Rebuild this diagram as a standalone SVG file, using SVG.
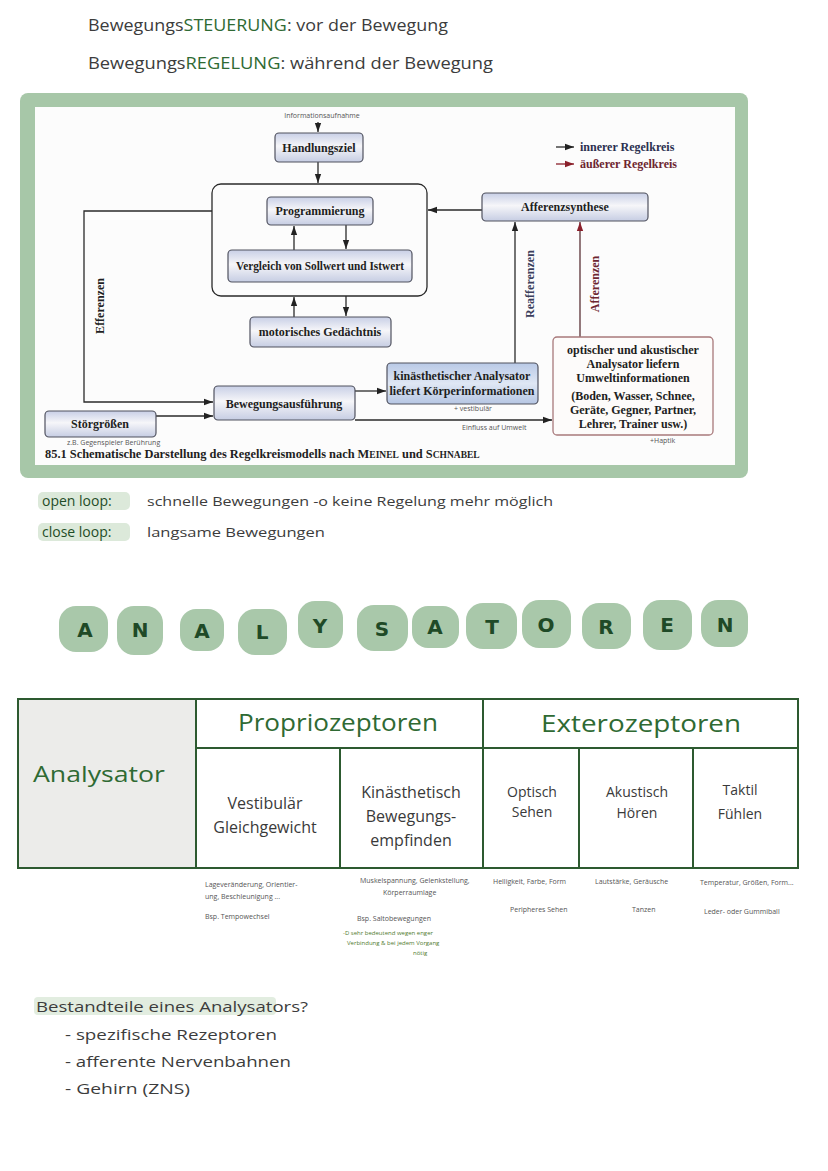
<svg xmlns="http://www.w3.org/2000/svg" width="828" height="1171" viewBox="0 0 828 1171">
<style>
.hw{font-family:"Open Sans","DejaVu Sans",sans-serif;fill:#3c3c3c}
.gr{fill:#2f6a33}
.dg{fill:#1e4a26}
.bt{font-family:"Liberation Serif",serif;font-weight:bold;font-size:12px;fill:#1e1e22;text-anchor:middle}
.bx{fill:url(#bg);stroke:#50525f;stroke-width:1.2}
.ln{fill:none;stroke:#2a2a2a;stroke-width:1.3}
.rl{fill:none;stroke:#5a3236;stroke-width:1.3}
.sm{font-family:"Open Sans","DejaVu Sans",sans-serif;font-size:7px;fill:#555}
.tl{stroke:#2d5a30;stroke-width:2;fill:none}
.blob{fill:#a9c8aa}
.bl{font-family:"DejaVu Sans",sans-serif;font-weight:bold;font-size:20px;fill:#1f4a27;text-anchor:middle}
.th{font-family:"Open Sans","DejaVu Sans",sans-serif;fill:#3a3a3a;text-anchor:middle}
.nt{font-family:"Open Sans","DejaVu Sans",sans-serif;font-size:7px;fill:#555}
</style>
<defs>
<linearGradient id="bg" x1="0" y1="0" x2="0" y2="1">
<stop offset="0" stop-color="#c8cfe6"/><stop offset="0.45" stop-color="#f6f6f9"/><stop offset="1" stop-color="#c6cde3"/>
</linearGradient>
<linearGradient id="bg2" x1="0" y1="0" x2="0" y2="1">
<stop offset="0" stop-color="#b9c9e6"/><stop offset="0.5" stop-color="#dfe7f4"/><stop offset="1" stop-color="#b6c6e3"/>
</linearGradient>
<marker id="ah" viewBox="0 0 10 10" refX="10" refY="5" markerWidth="7" markerHeight="7" orient="auto-start-reverse"><path d="M0,1.5 L10,5 L0,8.5 Z" fill="#222"/></marker>
<marker id="ahr" viewBox="0 0 10 10" refX="10" refY="5" markerWidth="7" markerHeight="7" orient="auto-start-reverse"><path d="M0,1.5 L10,5 L0,8.5 Z" fill="#8a1f2a"/></marker>
</defs>
<rect width="828" height="1171" fill="#ffffff"/>

<g id="header">
<text class="hw" x="88" y="31" font-size="17" textLength="360" lengthAdjust="spacingAndGlyphs">Bewegungs<tspan class="gr">STEUERUNG</tspan>: vor der Bewegung</text>
<text class="hw" x="88" y="69" font-size="17" textLength="405" lengthAdjust="spacingAndGlyphs">Bewegungs<tspan class="gr">REGELUNG</tspan>: während der Bewegung</text>
</g>

<g id="frame">
<rect x="20" y="93" width="728" height="385" rx="8" fill="#a7c7a8"/>
<rect x="35" y="107" width="700" height="358" fill="#fcfcfc"/>
</g>

<g id="connectors">
<line class="ln" x1="318" y1="122" x2="318" y2="132" marker-end="url(#ah)"/>
<line class="ln" x1="318" y1="162" x2="318" y2="183" marker-end="url(#ah)"/>
<line class="ln" x1="294" y1="250" x2="294" y2="226" marker-end="url(#ah)"/>
<line class="ln" x1="346" y1="225" x2="346" y2="249" marker-end="url(#ah)"/>
<line class="ln" x1="294" y1="317" x2="294" y2="297" marker-end="url(#ah)"/>
<line class="ln" x1="346" y1="296" x2="346" y2="316" marker-end="url(#ah)"/>
<polyline class="ln" points="212,211 84,211 84,402 213,402" marker-end="url(#ah)"/>
<line class="ln" x1="156" y1="416" x2="213" y2="416" marker-end="url(#ah)"/>
<line class="ln" x1="482" y1="210" x2="428" y2="210" marker-end="url(#ah)"/>
<line class="ln" x1="355" y1="391" x2="386" y2="391" marker-end="url(#ah)"/>
<line class="ln" x1="355" y1="420" x2="552" y2="420" marker-end="url(#ah)"/>
<line class="ln" x1="515" y1="363" x2="515" y2="222" marker-end="url(#ah)"/>
<line class="rl" x1="580" y1="337" x2="580" y2="222" marker-end="url(#ahr)"/>
<line class="ln" x1="556" y1="147" x2="574" y2="147" marker-end="url(#ah)"/>
<line x1="556" y1="164" x2="574" y2="164" stroke="#8a1f2a" stroke-width="1.3" marker-end="url(#ahr)"/>
</g>

<g id="legend">
<text x="580" y="151" font-family="Liberation Serif,serif" font-weight="bold" font-size="12" fill="#2b3050">innerer Regelkreis</text>
<text x="580" y="168" font-family="Liberation Serif,serif" font-weight="bold" font-size="12" fill="#6d2630">äußerer Regelkreis</text>
</g>

<g id="info">
<text class="sm" x="322" y="118" text-anchor="middle">Informationsaufnahme</text>
</g>

<g id="handlungsziel">
<rect class="bx" x="275" y="133" width="88" height="29" rx="4"/>
<text class="bt" x="319" y="152">Handlungsziel</text>
</g>

<g id="zentrum">
<rect class="ln" x="212" y="184" width="215" height="112" rx="9"/>
</g>

<g id="programmierung">
<rect class="bx" x="267" y="197" width="106" height="28" rx="4"/>
<text class="bt" x="320" y="215">Programmierung</text>
</g>

<g id="vergleich">
<rect class="bx" x="228" y="250" width="184" height="32" rx="4"/>
<text class="bt" x="320" y="270" textLength="168" lengthAdjust="spacingAndGlyphs">Vergleich von Sollwert und Istwert</text>
</g>

<g id="gedaechtnis">
<rect class="bx" x="250" y="317" width="141" height="30" rx="4"/>
<text class="bt" x="320" y="336">motorisches Gedächtnis</text>
</g>

<g id="afferenzsynthese">
<rect class="bx" x="482" y="193" width="166" height="28" rx="4"/>
<text class="bt" x="565" y="211">Afferenzsynthese</text>
</g>

<g id="bewegungsausfuehrung">
<rect class="bx" x="214" y="386" width="141" height="34" rx="4"/>
<text class="bt" x="284" y="408">Bewegungsausführung</text>
</g>

<g id="stoergroessen">
<rect class="bx" x="45" y="411" width="111" height="26" rx="4"/>
<text class="bt" x="100" y="428">Störgrößen</text>
<text class="sm" x="67" y="445">z.B. Gegenspieler Berührung</text>
</g>

<g id="kinaesthetisch">
<rect x="387" y="363" width="151" height="41" rx="4" fill="url(#bg2)" stroke="#50525f" stroke-width="1.2"/>
<text class="bt" x="462" y="380">kinästhetischer Analysator</text>
<text class="bt" x="462" y="395">liefert Körperinformationen</text>
<text class="sm" x="454" y="411">+ vestibulär</text>
</g>

<g id="optisch">
<rect x="553" y="337" width="160" height="98" rx="4" fill="#fdfbfa" stroke="#a8797b" stroke-width="1.3"/>
<text class="bt" x="633" y="354">optischer und akustischer</text>
<text class="bt" x="633" y="368">Analysator liefern</text>
<text class="bt" x="633" y="382">Umweltinformationen</text>
<text class="bt" x="633" y="400">(Boden, Wasser, Schnee,</text>
<text class="bt" x="633" y="414">Geräte, Gegner, Partner,</text>
<text class="bt" x="633" y="428">Lehrer, Trainer usw.)</text>
<text class="sm" x="650" y="443">+Haptik</text>
</g>

<g id="labels">
<text class="bt" transform="translate(104,306) rotate(-90)">Efferenzen</text>
<text class="bt" transform="translate(534,284) rotate(-90)" style="fill:#3b3f5c">Reafferenzen</text>
<text class="bt" transform="translate(599,284) rotate(-90)" style="fill:#6d2630">Afferenzen</text>
<text class="sm" x="462" y="430">Einfluss auf Umwelt</text>
</g>

<g id="caption">
<text x="45" y="458" font-family="Liberation Serif,serif" font-weight="bold" font-size="12.4" fill="#1e1e22">85.1  Schematische Darstellung des Regelkreismodells nach M<tspan font-size="9.5">EINEL</tspan> und S<tspan font-size="9.5">CHNABEL</tspan></text>
</g>

<g id="loops">
<rect x="38" y="492" width="92" height="18" rx="5" fill="#dce9da"/>
<rect x="38" y="523" width="92" height="18" rx="5" fill="#dce9da"/>
<text class="hw" x="42" y="506" font-size="14" style="fill:#1f4d27">open loop:</text>
<text class="hw" x="147" y="506" font-size="13.5" textLength="406" lengthAdjust="spacingAndGlyphs">schnelle Bewegungen  -o keine  Regelung  mehr  möglich</text>
<text class="hw" x="42" y="537" font-size="14" style="fill:#1f4d27">close loop:</text>
<text class="hw" x="147" y="537" font-size="13.5" textLength="178" lengthAdjust="spacingAndGlyphs">langsame  Bewegungen</text>
</g>

<g id="title-analysatoren">
<rect class="blob" x="59" y="606" width="49" height="46" rx="17"/>
<rect class="blob" x="117" y="606" width="46" height="49" rx="17"/>
<rect class="blob" x="180" y="609" width="44" height="42" rx="16"/>
<rect class="blob" x="238" y="609" width="49" height="46" rx="17"/>
<rect class="blob" x="298" y="601" width="45" height="47" rx="17"/>
<rect class="blob" x="357" y="605" width="51" height="46" rx="17"/>
<rect class="blob" x="412" y="606" width="47" height="42" rx="16"/>
<rect class="blob" x="466" y="603" width="51" height="46" rx="17"/>
<rect class="blob" x="522" y="600" width="49" height="48" rx="17"/>
<rect class="blob" x="582" y="603" width="49" height="46" rx="17"/>
<rect class="blob" x="643" y="600" width="49" height="50" rx="17"/>
<rect class="blob" x="701" y="600" width="47" height="47" rx="17"/>
<text class="bl" x="85" y="637">A</text>
<text class="bl" x="140" y="637">N</text>
<text class="bl" x="202" y="638">A</text>
<text class="bl" x="262" y="639">L</text>
<text class="bl" x="320" y="633">Y</text>
<text class="bl" x="382" y="636">S</text>
<text class="bl" x="435" y="634">A</text>
<text class="bl" x="492" y="634">T</text>
<text class="bl" x="546" y="632">O</text>
<text class="bl" x="606" y="634">R</text>
<text class="bl" x="667" y="632">E</text>
<text class="bl" x="725" y="632">N</text>
</g>

<g id="table">
<rect x="18" y="699" width="178" height="169" fill="#ececea"/>
<rect class="tl" x="18" y="699" width="780" height="169"/>
<line class="tl" x1="196" y1="699" x2="196" y2="868"/>
<line class="tl" x1="196" y1="748" x2="798" y2="748"/>
<line class="tl" x1="483" y1="699" x2="483" y2="868"/>
<line class="tl" x1="340" y1="748" x2="340" y2="868"/>
<line class="tl" x1="579" y1="748" x2="579" y2="868"/>
<line class="tl" x1="693" y1="748" x2="693" y2="868"/>
<text class="hw" x="33" y="782" font-size="21" style="fill:#2f6a33" textLength="132" lengthAdjust="spacingAndGlyphs">Analysator</text>
<text class="hw" x="338" y="731" font-size="23" text-anchor="middle" style="fill:#2f6a33" textLength="200" lengthAdjust="spacingAndGlyphs">Propriozeptoren</text>
<text class="hw" x="641" y="732" font-size="23" text-anchor="middle" style="fill:#2f6a33" textLength="200" lengthAdjust="spacingAndGlyphs">Exterozeptoren</text>
<text class="th" x="265" y="809" font-size="16">Vestibulär</text>
<text class="th" x="265" y="833" font-size="16">Gleichgewicht</text>
<text class="th" x="411" y="798" font-size="16">Kinästhetisch</text>
<text class="th" x="411" y="822" font-size="16">Bewegungs-</text>
<text class="th" x="411" y="846" font-size="16">empfinden</text>
<text class="th" x="532" y="797" font-size="14">Optisch</text>
<text class="th" x="532" y="817" font-size="14">Sehen</text>
<text class="th" x="637" y="797" font-size="14">Akustisch</text>
<text class="th" x="637" y="818" font-size="14">Hören</text>
<text class="th" x="740" y="795" font-size="14">Taktil</text>
<text class="th" x="740" y="819" font-size="14">Fühlen</text>
</g>

<g id="notes">
<text class="nt" x="205" y="887">Lageveränderung, Orientier-</text>
<text class="nt" x="205" y="899">ung, Beschleunigung ...</text>
<text class="nt" x="205" y="919">Bsp. Tempowechsel</text>
<text class="nt" x="360" y="883">Muskelspannung, Gelenkstellung,</text>
<text class="nt" x="383" y="895">Körperraumlage</text>
<text class="nt" x="357" y="921">Bsp. Saltobewegungen</text>
<text class="nt" x="343" y="935" style="fill:#4f7a2e;font-size:6px">-D sehr bedeutend wegen enger</text>
<text class="nt" x="347" y="945" style="fill:#4f7a2e;font-size:6px">Verbindung &amp; bei jedem Vorgang</text>
<text class="nt" x="413" y="955" style="fill:#4f7a2e;font-size:6px">nötig</text>
<text class="nt" x="493" y="884">Helligkeit, Farbe, Form</text>
<text class="nt" x="510" y="912">Peripheres Sehen</text>
<text class="nt" x="595" y="884">Lautstärke, Geräusche</text>
<text class="nt" x="632" y="912">Tanzen</text>
<text class="nt" x="700" y="885">Temperatur, Größen, Form...</text>
<text class="nt" x="704" y="914">Leder- oder Gummiball</text>
</g>

<g id="bestandteile">
<rect x="34" y="997" width="242" height="18" rx="4" fill="#e2ede0"/>
<text class="hw" x="36" y="1012" font-size="14" textLength="272" lengthAdjust="spacingAndGlyphs">Bestandteile eines Analysators?</text>
<text class="hw" x="65" y="1040" font-size="14" textLength="212" lengthAdjust="spacingAndGlyphs">- spezifische Rezeptoren</text>
<text class="hw" x="65" y="1067" font-size="14" textLength="226" lengthAdjust="spacingAndGlyphs">- afferente Nervenbahnen</text>
<text class="hw" x="65" y="1094" font-size="14" textLength="125" lengthAdjust="spacingAndGlyphs">- Gehirn (ZNS)</text>
</g>
</svg>
